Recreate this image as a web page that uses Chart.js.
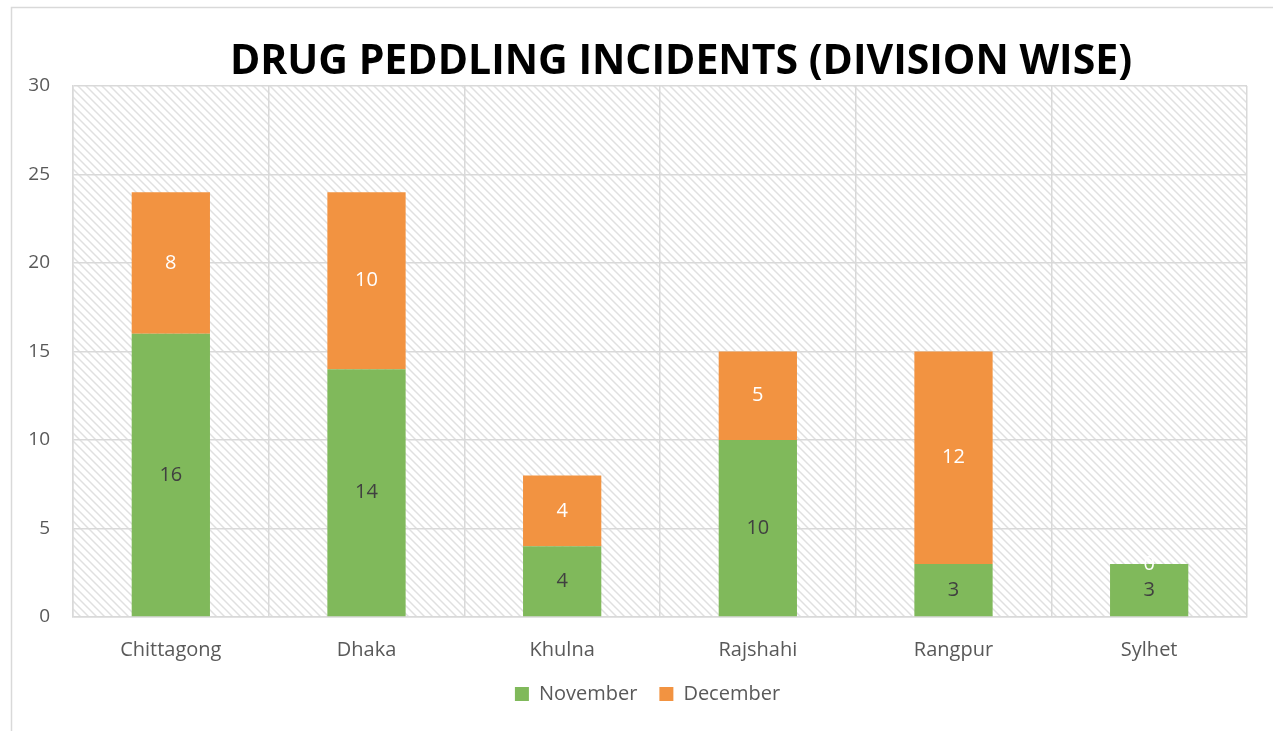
<!DOCTYPE html>
<html>
<head>
<meta charset="utf-8">
<script src="https://cdn.jsdelivr.net/npm/chart.js@4"></script>
<style>
  html, body { margin: 0; padding: 0; background: #fff; }
  #wrap { width: 1273px; height: 731px; }
</style>
</head>
<body>
<div id="wrap"><canvas id="chart"></canvas></div>
<script>
const divisions = ['Chittagong', 'Dhaka', 'Khulna', 'Rajshahi', 'Rangpur', 'Sylhet'];
const november = [16, 14, 4, 10, 3, 3];
const december = [8, 10, 4, 5, 12, 0];
const yTicks = [0, 5, 10, 15, 20, 25, 30];
const chartTitle = 'DRUG PEDDLING INCIDENTS (DIVISION WISE)';

const GREEN = '#80b95b';
const ORANGE = '#f29341';
const GRID = '#d9d9d9';
const TEXT = '#595959';

// hatch pattern for plot background
function makeHatch() {
  const c = document.createElement('canvas');
  c.width = 8; c.height = 8;
  const g = c.getContext('2d');
  g.strokeStyle = '#e0e0e0';
  g.lineWidth = 1.5;
  g.beginPath();
  g.moveTo(-2, -2); g.lineTo(10, 10);
  g.moveTo(-2, 6); g.lineTo(2, 10);
  g.moveTo(6, -2); g.lineTo(10, 2);
  g.stroke();
  return g.createPattern(c, 'repeat');
}

const backdrop = {
  id: 'backdrop',
  afterLayout(chart) {
    // legend sits centred under the plot, not the canvas
    chart.legend.left += 24;
    chart.legend.right += 24;
  },
  beforeDraw(chart) {
    const ctx = chart.ctx, a = chart.chartArea;
    ctx.save();
    ctx.strokeStyle = GRID;
    ctx.lineWidth = 1.5;
    ctx.strokeRect(11.5, 7.5, 1400, 900);
    ctx.fillStyle = makeHatch();
    ctx.fillRect(a.left, a.top, a.right - a.left, a.bottom - a.top);
    ctx.fillStyle = '#000';
    ctx.font = 'bold 41px "Open Sans"';
    ctx.textAlign = 'center';
    ctx.textBaseline = 'middle';
    ctx.fillText(chartTitle, 681, 62);
    ctx.restore();
  }
};

const barLabels = {
  id: 'barLabels',
  afterDatasetsDraw(chart) {
    const ctx = chart.ctx;
    ctx.save();
    ctx.font = '20px "Open Sans"';
    ctx.textAlign = 'center';
    ctx.textBaseline = 'middle';
    chart.data.datasets.forEach((ds, di) => {
      const meta = chart.getDatasetMeta(di);
      ctx.fillStyle = di === 0 ? '#404040' : '#ffffff';
      meta.data.forEach((el, i) => {
        ctx.fillText(String(ds.data[i]), el.x, (el.y + el.base) / 2);
      });
    });
    ctx.restore();
  }
};

new Chart(document.getElementById('chart'), {
  type: 'bar',
  data: {
    labels: divisions,
    datasets: [
      { label: 'November', data: november, backgroundColor: GREEN },
      { label: 'December', data: december, backgroundColor: ORANGE }
    ]
  },
  options: {
    responsive: true,
    maintainAspectRatio: false,
    animation: false,
    datasets: { bar: { barPercentage: 0.4, categoryPercentage: 1 } },
    layout: { padding: { top: 86, right: 26, left: 0, bottom: 17 } },
    plugins: {
      title: { display: false },
      tooltip: { enabled: false },
      legend: {
        position: 'bottom',
        labels: {
          boxWidth: 14, boxHeight: 14, padding: 22,
          color: TEXT, font: { family: 'Open Sans', size: 20 }
        }
      }
    },
    scales: {
      x: {
        stacked: true,
        afterFit(s) { s.height = 45; },
        grid: { color: GRID, lineWidth: 1.5, offset: true, drawTicks: false },
        border: { color: GRID, width: 1.5 },
        ticks: { color: TEXT, padding: 21, font: { family: 'Open Sans', size: 20 } }
      },
      y: {
        stacked: true,
        min: 0, max: 30,
        afterFit(s) { s.width = 73; },
        afterBuildTicks(s) { s.ticks = yTicks.map(v => ({ value: v })); },
        grid: { color: GRID, lineWidth: 1.5, drawTicks: false },
        border: { color: GRID, width: 1.5 },
        ticks: { color: TEXT, padding: 23, font: { family: 'Open Sans', size: 19 } }
      }
    }
  },
  plugins: [backdrop, barLabels]
});
</script>
</body>
</html>
